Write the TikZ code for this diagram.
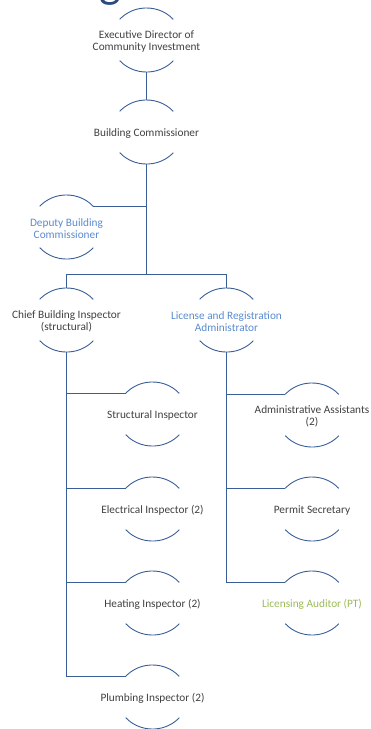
\documentclass[tikz,border=0pt]{standalone}
\usepackage{fontspec}
\setmainfont{Carlito}
\usepackage{xcolor}
\definecolor{navy}{HTML}{2B4A80}
\definecolor{ink}{HTML}{404040}
\definecolor{sky}{HTML}{5A8BCF}
\definecolor{leaf}{HTML}{9BBB59}
\colorlet{bow edge}{navy!70!sky}
\tikzset{role/.style={align=center, text=ink, inner sep=1pt, font=\fontsize{11.3}{12.3}\selectfont},
    bow/.style={draw=bow edge, line width=0.9pt},
    wire/.style={draw=bow edge, line width=1pt}}
% arcs above and below a role, plus points to hang the wires on
\newcommand\bowarcs[1]{%
  \draw[bow] ([shift={(26.8pt,22.1pt)}]#1.center)
    arc[start angle=40, end angle=140, x radius=35pt, y radius=32pt];
  \draw[bow] ([shift={(-26.8pt,-19.1pt)}]#1.center)
    arc[start angle=220, end angle=320, x radius=35pt, y radius=32pt];
  \coordinate (#1-t) at ([yshift=33.5pt]#1.center);
  \coordinate (#1-b) at ([yshift=-30.5pt]#1.center);
  \coordinate (#1-l) at ([shift={(-26.8pt,22.1pt)}]#1.center);
  \coordinate (#1-r) at ([shift={(26.8pt,22.1pt)}]#1.center);
}

\begin{document}
\begin{tikzpicture}[x=1pt, y=1pt]
    \useasboundingbox (0,0) rectangle (371,-729);
    \node[anchor=base, text=navy, font=\fontsize{46}{46}\selectfont] (title) at (110,3) {g};

    \node[role] (ed)  at (146.5,-41.5)  {Executive Director of\\Community Investment};
    \node[role] (bc)  at (146.5,-133.5) {Building Commissioner};
    \node[role, text=sky] (dep) at (66.5,-228.5) {Deputy Building\\Commissioner};
    \node[role] (cb)  at (66.5,-321.5)  {Chief Building Inspector\\(structural)};
    \node[role, text=sky] (lr) at (226.5,-321.5) {License and Registration\\Administrator};
    \node[role] (si)  at (152.5,-415.5) {Structural Inspector};
    \node[role] (ei)  at (152.5,-510.5) {Electrical Inspector (2)};
    \node[role] (hi)  at (152.5,-604.5) {Heating Inspector (2)};
    \node[role] (pi)  at (152.5,-698.5) {Plumbing Inspector (2)};
    \node[role] (aa)  at (312,-416.5)   {Administrative Assistants\\(2)};
    \node[role] (ps)  at (312,-510.5)   {Permit Secretary};
    \node[role, text=leaf] (la) at (312,-604.5) {Licensing Auditor (PT)};

    \foreach \r in {ed,bc,dep,cb,lr,si,ei,hi,pi,aa,ps,la}
      {\bowarcs{\r}}

    \draw[wire, line width=1.7pt] (ed-b) -- (bc-t);
    \draw[wire] (bc-b) -- ([yshift=14pt]bc-b |- cb-t);
    \draw[wire] (dep-r) -- (dep-r -| bc-b);
    \draw[wire] (cb-t) -- ++(0,14) -| (lr-t);
    \foreach \r in {si,ei,hi,pi}
      {\draw[wire] (cb-b) |- (\r-l);}
    \foreach \r in {aa,ps,la}
      {\draw[wire] (lr-b) |- (\r-l);}
\end{tikzpicture}
\end{document}
